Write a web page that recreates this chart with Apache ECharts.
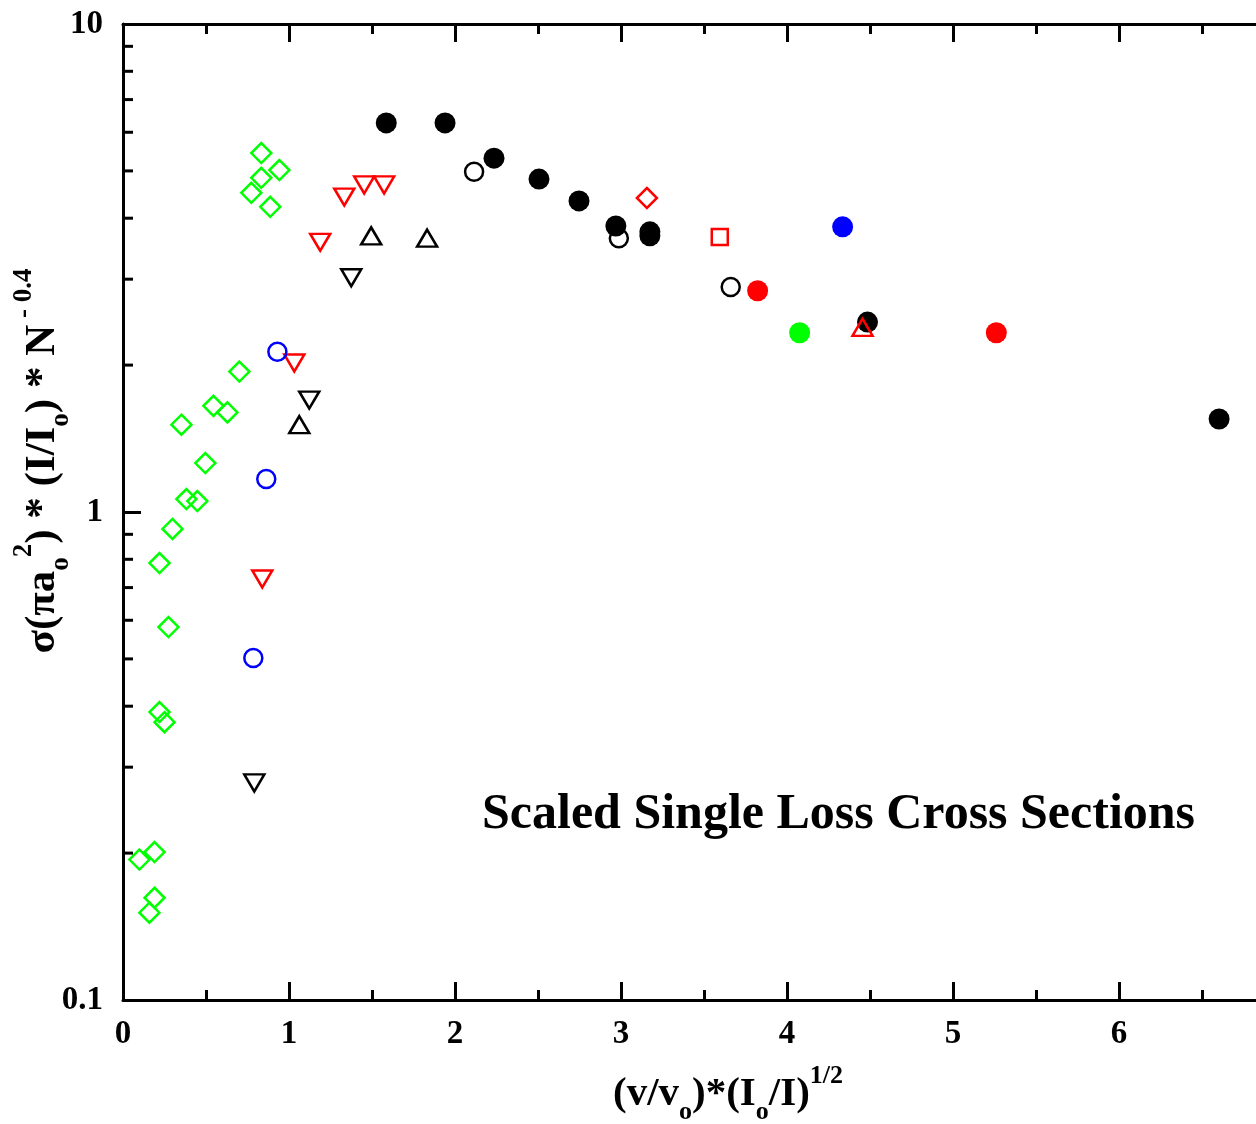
<!DOCTYPE html>
<html>
<head>
<meta charset="utf-8">
<script src="https://cdn.jsdelivr.net/npm/echarts@6/dist/echarts.min.js"></script>
<style>
html,body{margin:0;padding:0;background:#fff;}
#chart{width:1256px;height:1124px;}
</style>
</head>
<body>
<div id="chart"></div>
<script>
// ---- data ----
var greenOpenDiamonds = [
  [0.833,5.44],[0.942,5.02],[0.833,4.84],[0.773,4.51],[0.887,4.22],
  [0.701,1.94],[0.545,1.65],[0.629,1.60],[0.352,1.51],[0.496,1.26],
  [0.382,1.063],[0.448,1.053],[0.298,0.923],[0.220,0.786],[0.274,0.581],
  [0.220,0.389],[0.250,0.371],[0.099,0.194],[0.190,0.201],[0.190,0.162],[0.159,0.151]
];
var redOpenDownTriangles = [[1.188,3.57],[1.333,4.42],[1.453,4.68],[1.573,4.68],[1.032,2.02],[0.839,0.729]];
var blackOpenDownTriangles = [[1.375,3.02],[1.122,1.696],[0.791,0.2785]];
var blackOpenUpTriangles = [[1.495,3.68],[1.832,3.64],[1.062,1.51]];
var blueOpenCircles = [[0.930,2.13],[0.863,1.168],[0.785,0.502]];
var blackOpenCircles = [[2.115,4.98],[2.987,3.64],[3.661,2.89]];
var blackFilledCircles = [
  [1.586,6.27],[1.940,6.27],[2.235,5.31],[2.506,4.81],[2.747,4.34],
  [2.969,3.855],[3.174,3.75],[3.174,3.68],[4.485,2.45],[6.603,1.551]
];
var redFilledCircles = [[3.823,2.84],[5.261,2.33]];
var greenFilledCircles = [[4.076,2.33]];
var blueFilledCircles = [[4.335,3.84]];
var redOpenDiamonds = [[3.156,4.40]];
var redOpenSquares = [[3.595,3.66]];
var redOpenUpTriangles = [[4.455,2.39]];
var yMinorTickValues = [0.2,0.3,0.4,0.5,0.6,0.7,0.8,0.9,2,3,4,5,6,7,8,9];
var annotation = 'Scaled Single Loss Cross Sections';

// ---- chart ----
var FONT = '"Liberation Serif","Times New Roman",serif';
var chart = echarts.init(document.getElementById('chart'), null, {renderer:'canvas'});
var axisLine = {show:true, lineStyle:{color:'#000', width:3}};
var tick = {show:true, inside:true, length:18, lineStyle:{color:'#000', width:3}};
var minor = {show:true, splitNumber:2, length:10, lineStyle:{color:'#000', width:3}};

function openSeries(data, symbol, size, color, rotate, z) {
  return {type:'scatter', data:data, symbol:symbol, symbolSize:size, symbolRotate:rotate||0,
    itemStyle:{color:'rgba(0,0,0,0)', borderColor:color, borderWidth:2.5, opacity:1},
    z:z||2, silent:true};
}
function filledSeries(data, color, z) {
  return {type:'scatter', data:data, symbol:'circle', symbolSize:21,
    itemStyle:{color:color, opacity:1}, z:z||3, silent:true};
}

var richStyles = {
  m:{font:'bold 43px '+FONT, fill:'#000', lineHeight:64, verticalAlign:'middle'},
  s:{font:'bold 27px '+FONT, fill:'#000', lineHeight:26, verticalAlign:'bottom'},
  p:{font:'bold 27px '+FONT, fill:'#000', lineHeight:26, verticalAlign:'top'}
};
var richX = {
  m:{font:'bold 41px '+FONT, fill:'#000', lineHeight:62, verticalAlign:'middle'},
  s:{font:'bold 26px '+FONT, fill:'#000', lineHeight:26, verticalAlign:'bottom'},
  p:{font:'bold 26px '+FONT, fill:'#000', lineHeight:26, verticalAlign:'top'}
};

var option = {
  animation:false,
  backgroundColor:'#fff',
  grid:{left:123, top:24, right:-29, bottom:124, containLabel:false, outerBoundsMode:'none'},
  xAxis:[
    {type:'value', position:'bottom', min:0, max:7, interval:1,
     axisLine:axisLine, axisTick:tick, minorTick:minor, splitLine:{show:false}, minorSplitLine:{show:false},
     axisLabel:{show:true, margin:18, color:'#000', fontFamily:FONT, fontWeight:'bold', fontSize:33,
       formatter:function(v){return v<=6?String(v):'';}}},
    {type:'value', position:'top', min:0, max:7, interval:1,
     axisLine:axisLine, axisTick:tick, minorTick:minor, splitLine:{show:false},
     axisLabel:{show:false}}
  ],
  yAxis:[
    {type:'log', logBase:10, min:0.1, max:10,
     axisLine:axisLine, axisTick:tick, splitLine:{show:false},
     axisLabel:{show:true, margin:20, color:'#000', fontFamily:FONT, fontWeight:'bold', fontSize:33}}
  ],
  graphic:[
    {type:'text', left:482, top:790, silent:true,
     style:{text:annotation, font:'bold 50px '+FONT, fill:'#000'}},
    {type:'text', x:728, y:1094, silent:true,
     style:{text:'{m|(v/v}{s|o}{m|)*(I}{s|o}{m|/I)}{p|1/2}', align:'center', verticalAlign:'middle', rich:richX}},
    {type:'text', x:43, y:461, rotation:Math.PI/2, silent:true,
     style:{text:'{m|σ(πa}{s|o}{p|2}{m|) * (I/I}{s|o}{m|) * N}{p| - 0.4}', align:'center', verticalAlign:'middle', rich:richStyles}}
  ],
  series:[
    {type:'custom', silent:true, clip:false, z:5,
     data:yMinorTickValues.map(function(v){return [0, v];}),
     renderItem:function(params, api){
       var p = api.coord([api.value(0), api.value(1)]);
       return {type:'line', shape:{x1:p[0], y1:p[1], x2:p[0]+10, y2:p[1]},
               style:{stroke:'#000', lineWidth:3}};
     }},
    openSeries(greenOpenDiamonds, 'diamond', 20, '#00ff00'),
    openSeries(redOpenDownTriangles, 'triangle', [20,17], '#ff0000', 180),
    openSeries(blackOpenDownTriangles, 'triangle', [20,17], '#000000', 180),
    openSeries(blackOpenUpTriangles, 'triangle', [20,17], '#000000'),
    openSeries(blueOpenCircles, 'circle', 18, '#0000ff'),
    openSeries(blackOpenCircles, 'circle', 18, '#000000'),
    filledSeries(blackFilledCircles, '#000000', 3),
    filledSeries(redFilledCircles, '#ff0000', 3),
    filledSeries(greenFilledCircles, '#00ff00', 3),
    filledSeries(blueFilledCircles, '#0000ff', 3),
    openSeries(redOpenDiamonds, 'diamond', 20, '#ff0000', 0, 4),
    openSeries(redOpenSquares, 'rect', 16, '#ff0000', 0, 4),
    openSeries(redOpenUpTriangles, 'triangle', [20,17], '#ff0000', 0, 4)
  ]
};
chart.setOption(option);
</script>
</body>
</html>
